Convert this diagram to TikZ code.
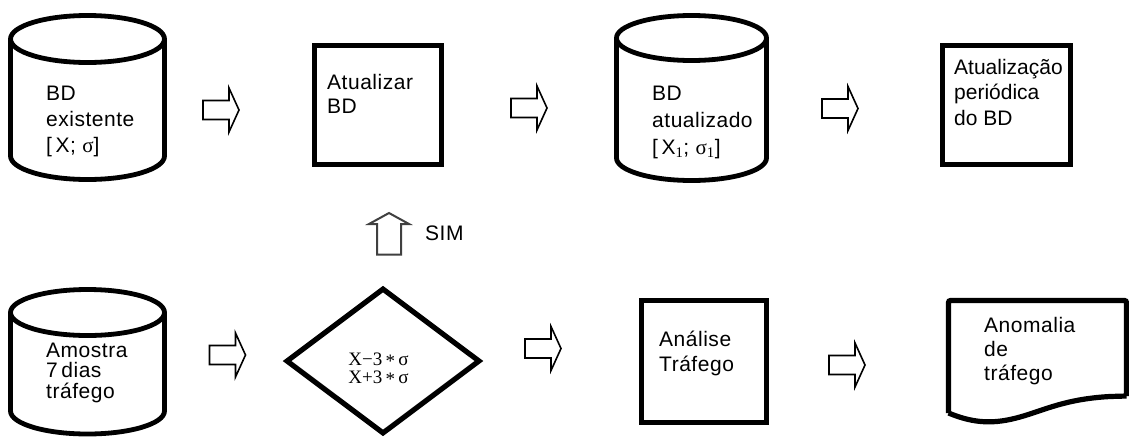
\documentclass[tikz,border=0pt]{standalone}
\usepackage{fontspec}
\setmainfont[LetterSpace=2.5]{Liberation Sans}
\newfontfamily\plainsans{Liberation Sans}
\newfontfamily\seriffont{Liberation Serif}
\usetikzlibrary{shapes.geometric}
\tikzset{
  shapeline/.style={draw=black, line width=4.8pt, line join=round},
  boxnode/.style={draw=black, line width=5.3pt, rectangle, inner sep=0pt},
  decision/.style={draw=black, line width=5.2pt, diamond, inner sep=0pt, line join=miter},
  % anchor = baseline of the LAST line of a multi-line node
  lbl/.style={anchor=base west, align=left, inner sep=0pt},
  blockline/.style={draw=black, line width=1.6pt, line join=miter},
  rarrow/.pic={\draw[blockline] (-18,-9.5) -- (8,-9.5) -- (8,-22) -- (18,0) -- (8,22) -- (8,9.5) -- (-18,9.5) -- cycle;},
  uarrow/.pic={\draw[draw=black!75, line width=2pt, line join=miter] (-12,17.5) -- (-12,-13) -- (-20,-13) -- (0,-24) -- (20,-13) -- (12,-13) -- (12,17.5) -- cycle;}
}
\newcommand\sig{{\seriffont σ}}
\begin{document}
\begin{tikzpicture}[x=1pt,y=-1pt]
\useasboundingbox (0,0) rectangle (1129,437);
\fill[white] (0,0) rectangle (1129,437);

% ---- cylinder 1: BD existente
\draw[shapeline] (10.5,39) -- (10.5,156) arc[start angle=180, end angle=0, x radius=77, y radius=23.5] -- (164.5,39);
\draw[shapeline] (87.5,39) ellipse[x radius=77, y radius=23.5];
\node[lbl, font=\fontsize{21}{26}\selectfont] (bdex) at (46,152) {BD\\existente\\{[\,}X; \sig]};

% ---- box Atualizar BD
\node[boxnode, minimum width=127pt, minimum height=119pt] (upd) at (378,105) {};
\node[lbl, font=\fontsize{21}{24}\selectfont] (updt) at (327,113) {Atualizar\\BD};

% ---- cylinder 2: BD atualizado
\draw[shapeline] (616.5,38) -- (616.5,158) arc[start angle=180, end angle=0, x radius=75, y radius=22.5] -- (766.5,38);
\draw[shapeline] (691.5,38) ellipse[x radius=75, y radius=22.5];
\node[lbl, font=\fontsize{21}{27}\selectfont] (bdat) at (652,154) {BD\\atualizado\\{[\,}X\textsubscript{\seriffont 1}; \sig\textsubscript{\seriffont 1}]};

% ---- box Atualizacao periodica
\node[boxnode, minimum width=128pt, minimum height=119pt] (per) at (1006.5,105) {};
\node[lbl, font=\plainsans\fontsize{21}{25.5}\selectfont] (pert) at (954,125) {Atualização\\periódica\\do BD};

% ---- cylinder 3: Amostra
\draw[shapeline] (10.5,312.5) -- (10.5,411) arc[start angle=180, end angle=0, x radius=77, y radius=23] -- (164.5,312.5);
\draw[shapeline] (87.5,312.5) ellipse[x radius=77, y radius=23];
\node[lbl, font=\fontsize{21}{20.5}\selectfont] (amo) at (46,398) {Amostra\\7\,dias\\tráfego};

% ---- decision diamond
\node[decision, minimum width=194pt, minimum height=146pt] (dec) at (383,361) {};
\node[anchor=base, align=center, inner sep=0pt, font=\seriffont\fontsize{19}{18}\selectfont] (dect) at (378.5,383) {X−3\,\raisebox{-0.3ex}{*}\,σ\\X+3\,\raisebox{-0.3ex}{*}\,σ};

% ---- box Analise Trafego
\node[boxnode, minimum width=125pt, minimum height=122pt] (ana) at (704,361.5) {};
\node[lbl, font=\fontsize{21}{25}\selectfont] (anat) at (659,371) {Análise\\Tráfego};

% ---- document: Anomalia de trafego
\draw[line width=5.2pt, rounded corners=2pt] (948.5,413) -- (948.5,300.5) -- (1126.5,300.5) -- (1126.5,396);
\draw[line width=5.2pt] (1126.5,396) -- (1110,396.5) .. controls (1065,399) and (1045,410) .. (1020,417) .. controls (995,424) and (975,424) .. (948.5,413);
\node[lbl, font=\fontsize{21}{24}\selectfont] (doc) at (984,380) {Anomalia\\de\\tráfego};

% ---- block arrows
\pic at (221,110) {rarrow};
\pic at (529,108) {rarrow};
\pic at (840,108.5) {rarrow};
\pic at (227.5,355) {rarrow};
\pic at (543,348.5) {rarrow};
\pic at (847,365) {rarrow};
\pic at (389,237) {uarrow};
\node[lbl, font=\fontsize{21}{24}\selectfont] (sim) at (425,240) {SIM};
\end{tikzpicture}
\end{document}
